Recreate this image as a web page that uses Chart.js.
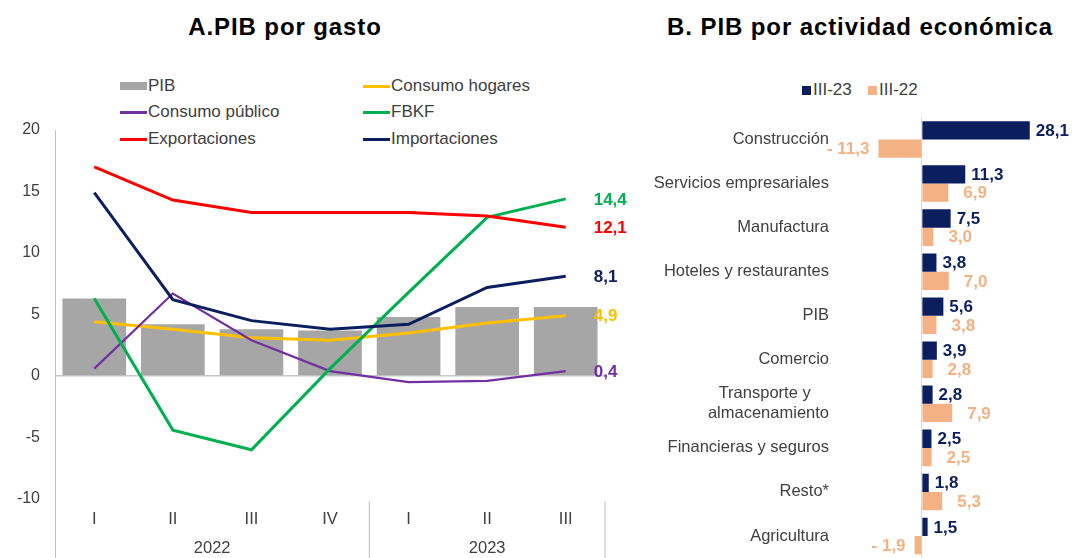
<!DOCTYPE html>
<html>
<head>
<meta charset="utf-8">
<script src="https://cdn.jsdelivr.net/npm/chart.js@4.4.1/dist/chart.umd.min.js"></script>
<style>
    body { margin: 0; width: 1072px; height: 558px; overflow: hidden; position: relative; background: #fff; font-family: 'Liberation Sans', Arial, sans-serif; }
    .title { position: absolute; top: 13px; font-weight: bold; font-size: 24px; line-height: 28px; letter-spacing: 0.9px; color: #000; white-space: nowrap; transform: translateX(-50%); }
    .leg { position: absolute; font-size: 17px; color: #404040; white-space: nowrap; line-height: 20px; }
    .mark { position: absolute; }
    #left-wrap { position: absolute; left: 0; top: 0; }
    #right-wrap { position: absolute; left: 630px; top: 0; }
</style>
</head>
<body>
<div class="title" style="left:285px">A.PIB por gasto</div>
<div class="title" style="left:860px">B. PIB por actividad económica</div>
<div id="left-legend"></div>
<div id="right-legend"></div>
<div id="left-wrap"><canvas id="gasto-chart" width="640" height="558"></canvas></div>
<div id="right-wrap"><canvas id="actividad-chart" width="442" height="558"></canvas></div>

<script>
// ---- A. PIB por gasto ----
const quarters = ['I', 'II', 'III', 'IV', 'I', 'II', 'III'];
const quarterYear = ['2022', '2022', '2022', '2022', '2023', '2023', '2023'];

const pib = [6.3, 4.2, 3.8, 3.7, 4.8, 5.6, 5.6];
const consumoHogares = [4.4, 3.8, 3.1, 2.9, 3.5, 4.3, 4.9];
const consumoPublico = [0.6, 6.7, 2.9, 0.4, -0.5, -0.4, 0.4];
const fbkf = [6.3, -4.4, -6.0, 0.6, 6.8, 12.9, 14.4];
const exportaciones = [17.0, 14.3, 13.3, 13.3, 13.3, 13.0, 12.1];
const importaciones = [14.9, 6.2, 4.5, 3.8, 4.2, 7.2, 8.1];

const gastoTicks = [-10, -5, 0, 5, 10, 15, 20];

// ---- B. PIB por actividad económica ----
const sectores = [
    'Construcción', 'Servicios empresariales', 'Manufactura', 'Hoteles y restaurantes', 'PIB',
    'Comercio', ['Transporte y    ', 'almacenamiento'], 'Financieras y seguros', 'Resto*', 'Agricultura'
];
const iii23 = [28.1, 11.3, 7.5, 3.8, 5.6, 3.9, 2.8, 2.5, 1.8, 1.5];
const iii22 = [-11.3, 6.9, 3.0, 7.0, 3.8, 2.8, 7.9, 2.5, 5.3, -1.9];

const FONT = "'Liberation Sans', Arial, sans-serif";
const TEXT = '#404040';
const NAVY = '#0B1F5E';
const PEACH = '#F4B183';

function fmt(v) {
    const s = Math.abs(v).toFixed(1).replace('.', ',');
    return v < 0 ? '- ' + s : s;
}

// Legend of chart A, two columns like the original
const leftSeries = [
    { name: 'PIB', color: '#A6A6A6', bar: true },
    { name: 'Consumo hogares', color: '#FFC000' },
    { name: 'Consumo público', color: '#7030A0' },
    { name: 'FBKF', color: '#00B050' },
    { name: 'Exportaciones', color: '#FF0000' },
    { name: 'Importaciones', color: NAVY }
];
const legCols = [120, 363];
const legRows = [86, 112, 139];
const leftLegend = document.getElementById('left-legend');
leftSeries.forEach((s, i) => {
    const x = legCols[i % 2];
    const y = legRows[Math.floor(i / 2)];
    const h = s.bar ? 8 : 3;
    leftLegend.insertAdjacentHTML('beforeend',
        `<div class="mark" style="left:${x}px;top:${y - h / 2}px;width:27px;height:${h}px;background:${s.color}"></div>` +
        `<div class="leg" style="left:${x + 28}px;top:${y - 10}px">${s.name}</div>`);
});

// Legend of chart B
const rightLegend = document.getElementById('right-legend');
[['III-23', NAVY, 802], ['III-22', PEACH, 868]].forEach(([name, color, x]) => {
    rightLegend.insertAdjacentHTML('beforeend',
        `<div class="mark" style="left:${x}px;top:86px;width:9px;height:9px;background:${color}"></div>` +
        `<div class="leg" style="left:${x + 11}px;top:80px">${name}</div>`);
});

// keep the axis from shrinking the plot for its edge labels
function noEdgePadding(s) {
    s.paddingTop = 0;
    s.paddingBottom = 0;
}

// Quarter / year labels, year separators and end-of-line values for chart A
const gastoDecor = {
    id: 'gastoDecor',
    afterDatasetsDraw(chart) {
        const { ctx, chartArea } = chart;
        const x = chart.scales.x, y = chart.scales.y;
        ctx.save();

        ctx.strokeStyle = '#BFBFBF';
        ctx.lineWidth = 1;
        const sepX = (x.getPixelForValue(3) + x.getPixelForValue(4)) / 2;
        [sepX, chartArea.right].forEach(px => {
            ctx.beginPath();
            ctx.moveTo(px, y.getPixelForValue(-10.2));
            ctx.lineTo(px, chartArea.bottom);
            ctx.stroke();
        });

        ctx.fillStyle = TEXT;
        ctx.font = '16.5px ' + FONT;
        ctx.textAlign = 'center';
        ctx.textBaseline = 'middle';
        quarters.forEach((q, i) => ctx.fillText(q, x.getPixelForValue(i), y.getPixelForValue(-11.7)));

        const years = [...new Set(quarterYear)];
        years.forEach(yr => {
            const first = quarterYear.indexOf(yr);
            const last = quarterYear.lastIndexOf(yr);
            const cx = (x.getPixelForValue(first) + x.getPixelForValue(last)) / 2;
            ctx.fillText(yr, cx, y.getPixelForValue(-14.0));
        });

        ctx.font = 'bold 17px ' + FONT;
        ctx.textAlign = 'left';
        chart.data.datasets.forEach((ds, di) => {
            if (ds.type !== 'line') return;
            const meta = chart.getDatasetMeta(di);
            const n = ds.data.length - 1;
            const pt = meta.data[n];
            ctx.fillStyle = ds.borderColor;
            ctx.fillText(fmt(ds.data[n]), pt.x + 28, pt.y + 1);
        });
        ctx.restore();
    }
};

// Value labels for chart B
const actividadLabels = {
    id: 'actividadLabels',
    afterDatasetsDraw(chart) {
        const { ctx } = chart;
        ctx.save();
        ctx.font = 'bold 17px ' + FONT;
        ctx.textBaseline = 'middle';
        chart.data.datasets.forEach((ds, di) => {
            const meta = chart.getDatasetMeta(di);
            ctx.fillStyle = ds.backgroundColor;
            meta.data.forEach((bar, i) => {
                const v = ds.data[i];
                if (v >= 0) {
                    ctx.textAlign = 'left';
                    ctx.fillText(fmt(v), bar.x + (di === 0 ? 6 : 15), bar.y + 1);
                } else {
                    ctx.textAlign = 'right';
                    ctx.fillText(fmt(v), bar.x - 9, bar.y + 1);
                }
            });
        });
        ctx.restore();
    }
};

function lineSet(label, data, color, width, order) {
    return {
        type: 'line', label: label, data: data, borderColor: color, backgroundColor: color,
        borderWidth: width, pointRadius: 0, tension: 0, order: order
    };
}

const gastoChart = new Chart(document.getElementById('gasto-chart').getContext('2d'), {
    data: {
        labels: quarters,
        datasets: [
            { type: 'bar', label: 'PIB', data: pib, backgroundColor: '#A6A6A6', barPercentage: 0.81, categoryPercentage: 1, order: 10 },
            lineSet('Consumo hogares', consumoHogares, '#FFC000', 3, 5),
            lineSet('Consumo público', consumoPublico, '#7030A0', 2.2, 4),
            lineSet('FBKF', fbkf, '#00B050', 3, 3),
            lineSet('Exportaciones', exportaciones, '#FF0000', 3, 1),
            lineSet('Importaciones', importaciones, NAVY, 3, 2)
        ]
    },
    options: {
        responsive: false,
        animation: false,
        layout: { padding: { top: 130, right: 35, bottom: 0, left: 0 } },
        plugins: { legend: { display: false }, tooltip: { enabled: false } },
        scales: {
            x: { display: false, offset: true },
            y: {
                min: -14.8,
                max: 20,
                afterBuildTicks: s => { s.ticks = gastoTicks.map(v => ({ value: v })); },
                afterFit: s => { s.width = 55; noEdgePadding(s); },
                ticks: { color: TEXT, font: { family: FONT, size: 16 }, padding: 15 },
                grid: {
                    drawTicks: false,
                    color: c => c.tick && c.tick.value === 0 ? '#C8C8C8' : 'transparent',
                    lineWidth: 1.5
                },
                border: { display: true, color: '#BFBFBF', width: 1 }
            }
        }
    },
    plugins: [gastoDecor]
});

const actividadChart = new Chart(document.getElementById('actividad-chart').getContext('2d'), {
    type: 'bar',
    data: {
        labels: sectores,
        datasets: [
            { label: 'III-23', data: iii23, backgroundColor: NAVY, categoryPercentage: 0.83, barPercentage: 1 },
            { label: 'III-22', data: iii22, backgroundColor: PEACH, categoryPercentage: 0.83, barPercentage: 1 }
        ]
    },
    options: {
        indexAxis: 'y',
        responsive: false,
        animation: false,
        layout: { padding: { top: 117.5, right: 0, bottom: 0, left: 0 } },
        plugins: { legend: { display: false }, tooltip: { enabled: false } },
        scales: {
            x: {
                min: -22.1,
                max: 39.1,
                afterBuildTicks: s => { s.ticks = [{ value: 0 }]; },
                ticks: { display: false },
                grid: { drawTicks: false, color: '#D9D9D9', lineWidth: 1 },
                border: { display: false }
            },
            y: {
                afterFit: s => { s.width = 207; noEdgePadding(s); },
                ticks: { color: TEXT, font: { family: FONT, size: 16.5 }, padding: 8, autoSkip: false },
                grid: { display: false, drawTicks: false },
                border: { display: false }
            }
        }
    },
    plugins: [actividadLabels]
});
</script>
</body>
</html>
